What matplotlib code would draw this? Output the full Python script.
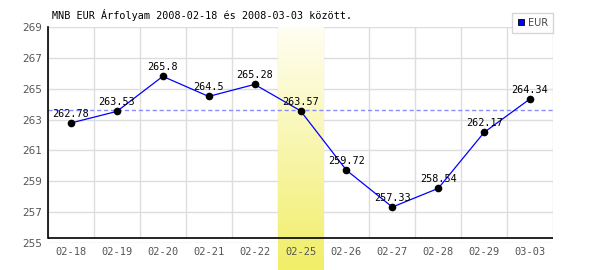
import numpy as np
import matplotlib
matplotlib.use("Agg")
import matplotlib.pyplot as plt
from matplotlib.lines import Line2D
from matplotlib.colors import LinearSegmentedColormap

# data
dates = ["02-18", "02-19", "02-20", "02-21", "02-22", "02-25",
         "02-26", "02-27", "02-28", "02-29", "03-03"]
eur = [262.78, 263.53, 265.8, 264.5, 265.28, 263.57,
       259.72, 257.33, 258.54, 262.17, 264.34]
avg_line = 263.6
highlight_idx = 5
yticks = [255, 257, 259, 261, 263, 265, 267, 269]
title = "MNB EUR Árfolyam 2008-02-18 és 2008-03-03 között."

MONO = "DejaVu Sans Mono"
GRID = "#dddddd"

fig = plt.figure(figsize=(6, 2.7), dpi=100)
ax_l, ax_b, ax_w, ax_h = 48 / 600, 27 / 270, 505 / 600, 216 / 270
ax = fig.add_axes([ax_l, ax_b, ax_w, ax_h])

ymin, ymax = yticks[0], yticks[-1]
n = len(dates)
x = np.arange(n)
ax.set_xlim(-0.5, n - 0.5)
ax.set_ylim(ymin, ymax)
base = ymin + 0.32  # black axis line sits a bit above 255

# horizontal grid
for v in yticks:
    ax.axhline(v, color=GRID, lw=1, zorder=0.5)
# vertical grid between categories
ax.vlines(np.arange(n + 1) - 0.5, base, ymax, color=GRID, lw=1, zorder=0.5)

# highlighted day, gradient down to the bottom of the figure
y_fig_bottom = ymin - (ax_b / ax_h) * (ymax - ymin)
cmap = LinearSegmentedColormap.from_list("hl", ["#fffef2", "#f1ee68"])
grad = np.linspace(0, 1, 256).reshape(-1, 1)
ax.imshow(grad, cmap=cmap, aspect="auto", origin="upper",
          extent=(highlight_idx - 0.5, highlight_idx + 0.5, y_fig_bottom, ymax),
          clip_on=False, zorder=0.8)

ax.axhline(avg_line, color="#8c8cff", lw=1, ls=(0, (3, 2)), zorder=1)
ax.hlines(base, -0.5, n - 0.5, color="black", lw=1.2, zorder=3)

ax.plot(x, eur, color="#0000ff", lw=0.9, zorder=2)
ax.plot(x, eur, "o", color="black", ms=4.5, zorder=4)
for xi, v in zip(x, eur):
    ax.annotate(f"{v:g}", (xi, v), xytext=(0, 4.5), textcoords="offset points",
                ha="center", va="baseline", fontsize=7.3, family=MONO,
                color="black", zorder=5)

for s in ["top", "right", "bottom"]:
    ax.spines[s].set_visible(False)
ax.spines["left"].set_bounds(base, ymax)
ax.spines["left"].set_linewidth(1.2)
ax.set_facecolor("white")

ax.set_yticks(yticks)
ax.set_yticklabels([str(v) for v in yticks])
ax.set_xticks(x)
ax.set_xticklabels(dates)
ax.tick_params(axis="y", length=0, pad=4.5, labelsize=7.5, labelcolor="#555555")
ax.tick_params(axis="x", length=0, pad=3, labelsize=7.5, labelcolor="#555555")
for lab in ax.get_xticklabels():
    lab.set_family(MONO)

fig.text(52 / 600, 1 - 15 / 270, title, fontsize=7.3, family=MONO,
         va="center", ha="left", color="black")

handle = Line2D([], [], marker="s", color="#0000ff", markeredgecolor="black",
                markeredgewidth=0.6, ls="none", ms=5)
leg = fig.legend([handle], ["EUR"], loc="upper right",
                 bbox_to_anchor=(553 / 600, 1 - 13 / 270),
                 frameon=True, fancybox=False, fontsize=7,
                 handlelength=0.8, handletextpad=0.3, borderpad=0.5,
                 borderaxespad=0)
leg.get_frame().set_edgecolor("#cccccc")
leg.get_frame().set_linewidth(1)
for t in leg.get_texts():
    t.set_color("#444444")

fig.savefig("out.png", dpi=100)
